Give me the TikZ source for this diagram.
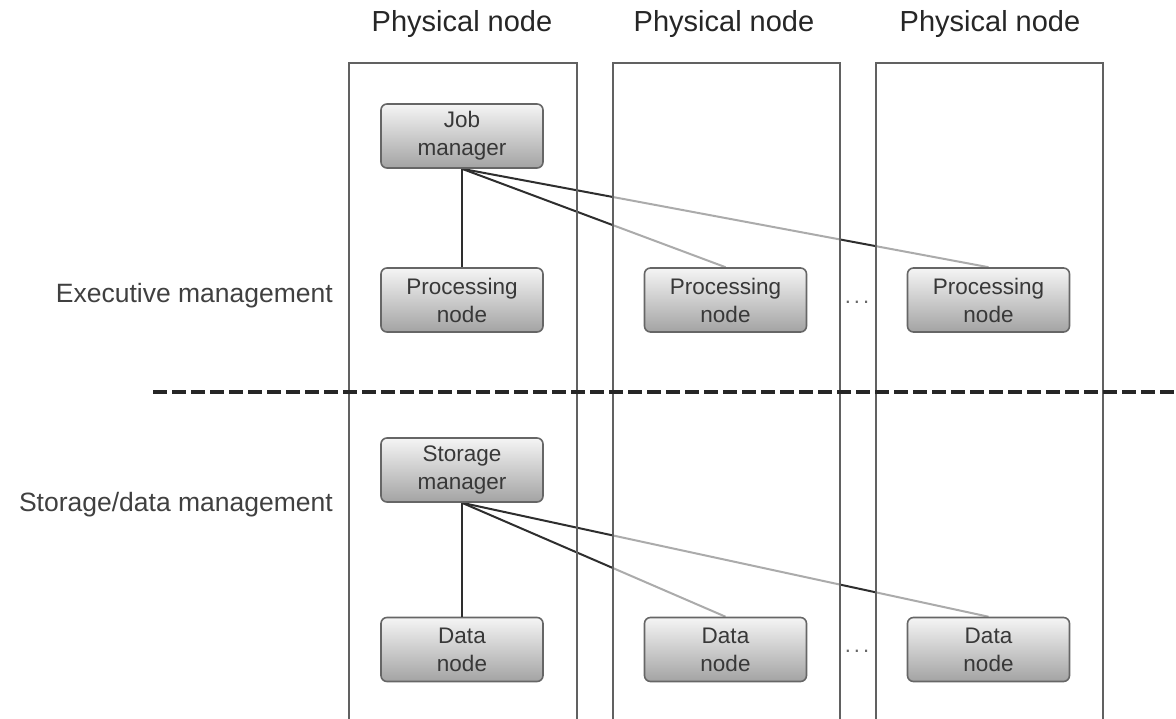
\documentclass[tikz,border=0pt]{standalone}
\usepackage{fontspec}
\setmainfont{Liberation Sans}
\usetikzlibrary{backgrounds}
\begin{document}
\begin{tikzpicture}[x=1pt,y=-1pt,
  colframe/.style={draw=black!62, line width=1.6pt},
  colveil/.style={fill=white, fill opacity=0.6},
  header/.style={font=\fontsize{29}{34}\selectfont, text=black!85, inner sep=0pt},
  rowlabel/.style={font=\fontsize{26.5}{32}\selectfont, text=black!75, inner sep=0pt, anchor=east},
  unitbox/.style={rounded corners=6pt, draw=black!60, line width=1.6pt,
    top color=black!4, bottom color=black!36, minimum width=162pt, minimum height=64pt,
    align=center, inner sep=0pt, text=black!78, font=\fontsize{22.5}{28}\selectfont},
  link/.style={draw=black!82, line width=2pt},
  dotsnode/.style={font=\fontsize{22}{26}\selectfont, text=black!60, inner sep=0pt},
  divider/.style={draw=black!85, line width=3.5pt, dash pattern=on 14pt off 5pt}]
\useasboundingbox (0,0) rectangle (1176,718);

% headers
\node[header] (h1) at (462,24) {Physical node};
\node[header] (h2) at (724,24) {Physical node};
\node[header] (h3) at (990,24) {Physical node};

% row labels
\node[rowlabel] (exec) at (333,296) {Executive management};
\node[rowlabel] (stor) at (333,505) {Storage/data management};

% column frames
\draw[colframe] (349,720) |- (577,63) -- (577,720);
\draw[colframe] (613,720) |- (840,63) -- (840,720);
\draw[colframe] (876,720) |- (1103,63) -- (1103,720);

% divider
\draw[divider] (153,392) -- (1176,392);

% boxes
\node[unitbox] (job) at (462,136) {Job\\manager};
\node[unitbox] (p1) at (462,300) {Processing\\node};
\node[unitbox] (p2) at (725.5,300) {Processing\\node};
\node[unitbox] (p3) at (988.5,300) {Processing\\node};
\node[unitbox] (sm) at (462,470) {Storage\\manager};
\node[unitbox] (d1) at (462,649.5) {Data\\node};
\node[unitbox] (d2) at (725.5,649.5) {Data\\node};
\node[unitbox] (d3) at (988.5,649.5) {Data\\node};

\draw[link] (job.south) -- (p1.north);
\draw[link] (sm.south) -- (d1.north);

% connectors to remote columns, veiled by the column interiors
\begin{scope}[on background layer]
  \fill[white] (0,0) rectangle (1176,718);
  \draw[link] (job.south) -- (p2.north);
  \draw[link] (job.south) -- (p3.north);
  \draw[link] (sm.south) -- (d2.north);
  \draw[link] (sm.south) -- (d3.north);
  \path[colveil] (613,63) rectangle (840,720);
  \path[colveil] (876,63) rectangle (1103,720);
\end{scope}

% ellipses
\node[dotsnode] (e1) at (857,302) {.\hspace{3pt}.\hspace{3pt}.};
\node[dotsnode] (e2) at (857,651) {.\hspace{3pt}.\hspace{3pt}.};
\end{tikzpicture}
\end{document}
